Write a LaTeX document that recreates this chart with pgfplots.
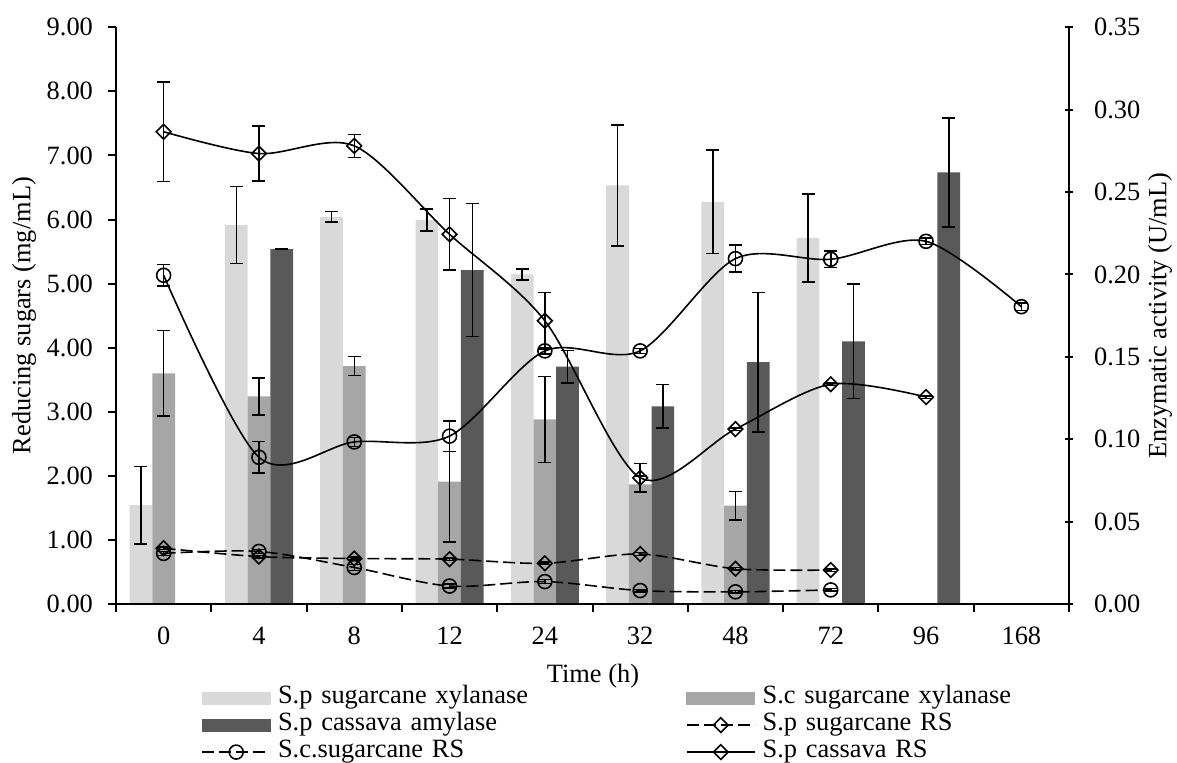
\documentclass[border=0pt]{standalone}
\usepackage{fontspec}
\setmainfont{Liberation Serif}
\usepackage{pgfplots}
\pgfplotsset{compat=1.18}
\definecolor{barlight}{HTML}{D9D9D9}
\definecolor{barmid}{HTML}{A6A6A6}
\definecolor{bardark}{HTML}{595959}

\pgfplotsset{
  common/.style={
    width=476.5pt, height=288.35pt, scale only axis,
    at={(0,0)}, anchor=south west,
    xmin=-0.5, xmax=9.5,
    font=\fontsize{13.2}{15}\selectfont,
    /pgf/number format/assume math mode=true,
    axis line style={line width=1pt},
    tick style={line width=1pt, black},
    major tick length=4pt,
    clip=false,
  },
  errs/.style={
    error bars/y dir=both, error bars/y explicit,
    error bars/error bar style={line width=0.75pt, black, solid},
    error bars/error mark options={line width=0.75pt, mark size=3.25pt, rotate=90, black, solid},
  },
  twodec/.style={/pgf/number format/fixed, /pgf/number format/fixed zerofill,
    /pgf/number format/precision=2},
}

\begin{document}
\begin{tikzpicture}
\useasboundingbox (-58pt,-79pt) rectangle (530.5pt,302pt);

% enzyme activity bars, right axis
\begin{axis}[common,
  ybar=0pt, bar width=11.35pt,
  axis x line=none, axis y line*=right,
  ymin=0, ymax=0.35,
  ytick={0,0.05,0.10,0.15,0.20,0.25,0.30,0.35},
  tick align=center,
  yticklabel style={anchor=west, xshift=7pt, twodec},
  ylabel={Enzymatic activity (U/mL)},
  ylabel style={at={(axis description cs:1.0955,0.5)}, anchor=center},
]
\addplot[fill=barlight, draw=none, errs]
  table[x=x, y=y, y error=e] {
x y e
0 0.060 0.0235
1 0.230 0.0234
2 0.235 0.0033
3 0.233 0.0066
4 0.200 0.0033
5 0.254 0.0368
6 0.244 0.0314
7 0.222 0.0267
};
\addplot[fill=barmid, draw=none, errs]
  table[x=x, y=y, y error=e] {
x y e
0 0.140 0.0260
1 0.126 0.0112
2 0.1444 0.0057
3 0.0742 0.0366
4 0.112 0.0260
5 0.0726 0.0050
6 0.0597 0.0087
};
\addplot[fill=bardark, draw=none, errs]
  table[x=x, y=y, y error=e] {
x y e
1 0.2154 0.0003
3 0.2027 0.0405
4 0.144 0.0099
5 0.120 0.0131
6 0.1468 0.0424
7 0.1594 0.0347
8 0.262 0.0331
};
\end{axis}

% reducing sugars, left axis
\begin{axis}[common,
  axis x line*=bottom, axis y line*=left,
  ymin=0, ymax=9, ytick={0,1,...,9},
  yticklabel style={anchor=east, xshift=-4pt, twodec},
  tick align=outside,
  xtick={-0.5,0.5,...,9.5}, xticklabels={},
  extra x ticks={0,1,...,9},
  extra x tick labels={0,4,8,12,24,32,48,72,96,168},
  extra x tick style={major tick length=0pt, xticklabel style={anchor=center, yshift=-16pt}},
  xlabel={Time (h)},
  xlabel style={at={(axis description cs:0.5005,-0.1249)}, anchor=center},
  ylabel={Reducing sugars (mg/mL)},
  ylabel style={at={(axis description cs:-0.0965,0.5)}, anchor=center},
  legend columns=2, legend cell align=left,
  legend style={at={(axis description cs:0.0892,-0.139)}, anchor=north west,
    draw=none, fill=none, inner sep=0pt, column sep=0pt, row sep=0pt,
    nodes={inner xsep=3.5pt, inner ysep=0pt, text height=9.5pt, text depth=4pt,
      text width=200.5pt, anchor=west}},
  legend image code/.code={\draw[mark repeat=2, mark phase=2]
    plot coordinates {(0pt,0pt) (17pt,0pt) (34pt,0pt)};},
]
\addlegendimage{legend image code/.code={\fill[barlight] (0pt,-3pt) rectangle (34pt,3pt);}}
\addlegendentry{S.p sugarcane xylanase}
\addlegendimage{legend image code/.code={\fill[barmid] (0pt,-3pt) rectangle (34pt,3pt);}}
\addlegendentry{S.c sugarcane xylanase}
\addlegendimage{legend image code/.code={\fill[bardark] (0pt,-3pt) rectangle (34pt,3pt);}}
\addlegendentry{S.p cassava amylase}

\addplot[black, line width=0.8pt, smooth, dash pattern=on 6pt off 2.5pt,
  mark=square, mark size=2.58pt, mark options={rotate=45, solid, fill=none}, errs]
  table[x=x, y=y, y error=e] {
x y e
0 0.87 0.02
1 0.74 0.02
2 0.71 0.02
3 0.70 0.02
4 0.635 0.02
5 0.78 0.02
6 0.55 0.02
7 0.53 0.02
};
\addlegendentry{S.p sugarcane RS}

\addplot[black, line width=0.8pt, smooth, dash pattern=on 6pt off 2.5pt,
  mark=o, mark size=3.5pt, mark options={solid, fill=none}, errs]
  table[x=x, y=y, y error=e] {
x y e
0 0.79 0.03
1 0.82 0.03
2 0.57 0.05
3 0.28 0.03
4 0.35 0.03
5 0.21 0.02
6 0.19 0.02
7 0.22 0.02
};
\addlegendentry{S.c.sugarcane RS}

\addplot[black, line width=0.8pt, smooth,
  mark=square, mark size=2.58pt, mark options={rotate=45, solid, fill=none}, errs]
  table[x=x, y=y, y error=e] {
x y e
0 7.37 0.78
1 7.03 0.43
2 7.15 0.18
3 5.77 0.56
4 4.42 0.44
5 1.97 0.22
6 2.73 0.02
7 3.43 0.02
8 3.23 0.02
};
\addlegendentry{S.p cassava RS}

\addplot[black, line width=0.8pt, smooth, forget plot,
  mark=o, mark size=3.5pt, mark options={solid, fill=none}, errs]
  table[x=x, y=y, y error=e] {
x y e
0 5.13 0.17
1 2.29 0.245
2 2.53 0.07
3 2.62 0.24
4 3.95 0.05
5 3.95 0.04
6 5.39 0.21
7 5.38 0.13
8 5.66 0.05
9 4.64 0.06
};
\end{axis}
\end{tikzpicture}
\end{document}
